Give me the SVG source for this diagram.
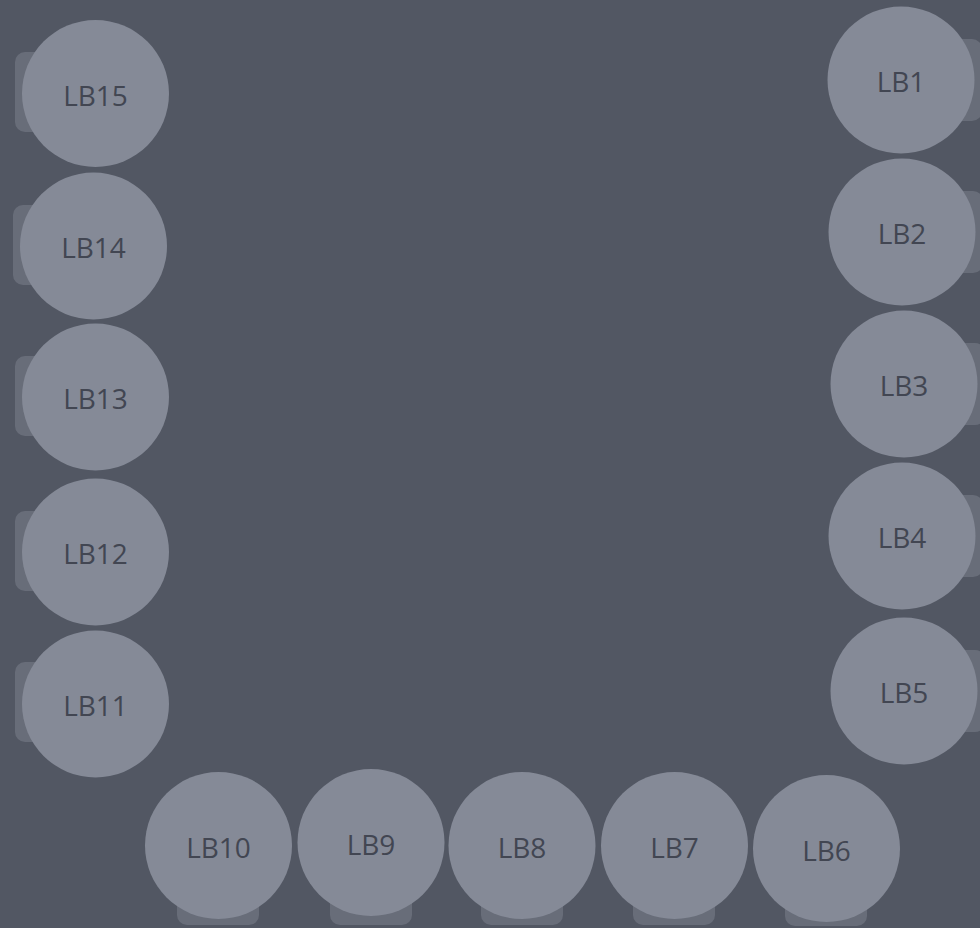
<svg xmlns="http://www.w3.org/2000/svg" width="980" height="928" viewBox="0 0 980 928">
<style>
.bg{fill:#525763}
.seat{fill:#686d79}
.c{fill:#858a97}
.t{font-family:"Open Sans","Noto Sans",sans-serif;font-size:28px;font-weight:500;fill:#424652;text-anchor:middle}
</style>
<rect class="bg" x="0" y="0" width="980" height="928"/>
<g id="connectors"></g>
<g id="LB1"><rect class="seat" x="901" y="39" width="81" height="82" rx="10"/><circle class="c" cx="901" cy="80" r="73.5"/><text class="t" x="901" y="92">LB1</text></g>
<g id="LB2"><rect class="seat" x="902" y="191" width="81" height="82" rx="10"/><circle class="c" cx="902" cy="232" r="73.5"/><text class="t" x="902" y="244">LB2</text></g>
<g id="LB3"><rect class="seat" x="904" y="343" width="81" height="82" rx="10"/><circle class="c" cx="904" cy="384" r="73.5"/><text class="t" x="904" y="396">LB3</text></g>
<g id="LB4"><rect class="seat" x="902" y="495" width="81" height="82" rx="10"/><circle class="c" cx="902" cy="536" r="73.5"/><text class="t" x="902" y="548">LB4</text></g>
<g id="LB5"><rect class="seat" x="904" y="650" width="81" height="82" rx="10"/><circle class="c" cx="904" cy="691" r="73.5"/><text class="t" x="904" y="703">LB5</text></g>
<g id="LB6"><rect class="seat" x="785" y="848" width="82" height="78" rx="10"/><circle class="c" cx="826.5" cy="848.5" r="73.5"/><text class="t" x="826.5" y="860.5">LB6</text></g>
<g id="LB7"><rect class="seat" x="633" y="846" width="82" height="79" rx="10"/><circle class="c" cx="674.5" cy="845.5" r="73.5"/><text class="t" x="674.5" y="857.5">LB7</text></g>
<g id="LB8"><rect class="seat" x="481" y="846" width="82" height="79" rx="10"/><circle class="c" cx="522" cy="845.5" r="73.5"/><text class="t" x="522" y="857.5">LB8</text></g>
<g id="LB9"><rect class="seat" x="330" y="843" width="82" height="82" rx="10"/><circle class="c" cx="371" cy="842.5" r="73.5"/><text class="t" x="371" y="854.5">LB9</text></g>
<g id="LB10"><rect class="seat" x="177" y="846" width="82" height="79" rx="10"/><circle class="c" cx="218.5" cy="845.5" r="73.5"/><text class="t" x="218.5" y="857.5">LB10</text></g>
<g id="LB11"><rect class="seat" x="15" y="662" width="81" height="80" rx="10"/><circle class="c" cx="95.5" cy="704" r="73.5"/><text class="t" x="95.5" y="716">LB11</text></g>
<g id="LB12"><rect class="seat" x="15" y="511" width="81" height="80" rx="10"/><circle class="c" cx="95.5" cy="552" r="73.5"/><text class="t" x="95.5" y="564">LB12</text></g>
<g id="LB13"><rect class="seat" x="15" y="356" width="81" height="80" rx="10"/><circle class="c" cx="95.5" cy="397" r="73.5"/><text class="t" x="95.5" y="409">LB13</text></g>
<g id="LB14"><rect class="seat" x="13" y="205" width="81" height="80" rx="10"/><circle class="c" cx="93.5" cy="246" r="73.5"/><text class="t" x="93.5" y="258">LB14</text></g>
<g id="LB15"><rect class="seat" x="15" y="52" width="81" height="80" rx="10"/><circle class="c" cx="95.5" cy="93.5" r="73.5"/><text class="t" x="95.5" y="105.5">LB15</text></g>
</svg>
